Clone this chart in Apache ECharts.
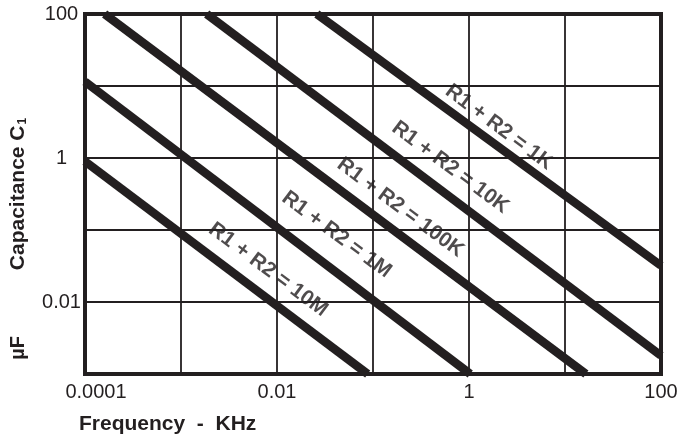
<!DOCTYPE html>
<html><head><meta charset="utf-8">
<script src="https://cdn.jsdelivr.net/npm/echarts@6/dist/echarts.min.js"></script>
<style>html,body{margin:0;padding:0;background:#fff}#chart{width:681px;height:437px}</style>
</head><body><div id="chart"></div>
<script>
// ---- data (frequency in kHz, capacitance in uF) ----
const xTickValues = [0.0001, 0.01, 1, 100];
const xTickLabels = ['0.0001', '0.01', '1', '100'];
const yTickValues = [100, 1, 0.01];
const yTickLabels = ['100', '1', '0.01'];
const lineNames = ['R1 + R2 = 10M', 'R1 + R2 = 1M', 'R1 + R2 = 100K', 'R1 + R2 = 10K', 'R1 + R2 = 1K'];
const line10M = [[0.0001, 0.9], [0.088, 0.001]];
const line1M = [[0.0001, 11.5], [1.03, 0.001]];
const line100K = [[0.00016, 100], [16.5, 0.001]];
const line10K = [[0.00185, 100], [100, 0.0018]];
const line1K = [[0.026, 100], [100, 0.032]];
const labelAnchors = [[0.00807, 0.0281], [0.0417, 0.0863], [0.193, 0.205], [0.638, 0.74], [2.06, 2.67]];

const INK = '#231f20';
const FONT = '"Liberation Sans", Arial, Helvetica, sans-serif';
const lines = [line10M, line1M, line100K, line10K, line1K];

function tickText(v, vals, labs) {
  for (let i = 0; i < vals.length; i++) {
    if (Math.abs(Math.log10(v) - Math.log10(vals[i])) < 1e-6) return labs[i];
  }
  return '';
}

const chart = echarts.init(document.getElementById('chart'), null, {renderer: 'canvas'});
chart.setOption({
  animation: false,
  backgroundColor: '#fff',
  grid: {left: 84.5, right: 20, top: 14, bottom: 63, show: true, borderColor: INK, borderWidth: 4, backgroundColor: 'transparent'},
  xAxis: {
    type: 'log', logBase: 10, min: 0.0001, max: 100, interval: 1,
    axisLine: {show: false}, axisTick: {show: false},
    splitLine: {show: true, lineStyle: {color: INK, width: 1.8}},
    axisLabel: {
      margin: 8, color: INK, fontSize: 20, fontFamily: FONT,
      formatter: function (v) {
        const t = tickText(v, xTickValues, xTickLabels);
        if (t && Math.abs(Math.log10(v) - Math.log10(xTickValues[0])) < 1e-6) return '{first|' + t + '}';
        return t;
      },
      rich: {first: {padding: [0, 0, 0, 22], fontSize: 20, fontFamily: FONT, color: INK}}
    }
  },
  yAxis: {
    type: 'log', logBase: 10, min: 0.001, max: 100, interval: 1,
    axisLine: {show: false}, axisTick: {show: false},
    splitLine: {show: true, lineStyle: {color: INK, width: 1.8}},
    axisLabel: {
      margin: 23.5, align: 'center', color: INK, fontSize: 20, fontFamily: FONT,
      formatter: function (v) { return tickText(v, yTickValues, yTickLabels); }
    },
    name: 'Capacitance C{sub|1}', nameLocation: 'middle', nameGap: 56,
    nameTextStyle: {
      color: INK, fontSize: 21, fontWeight: 'bold', fontFamily: FONT,
      rich: {sub: {fontSize: 12, fontWeight: 'bold', fontFamily: FONT, color: INK, verticalAlign: 'bottom', padding: [8, 0, 0, 1]}}
    }
  },
  graphic: [
    {type: 'text', left: 79, top: 414, style: {text: 'Frequency  -  KHz', font: 'bold 21px ' + FONT, fill: INK}},
    {type: 'text', x: 18, y: 348, rotation: Math.PI / 2, style: {text: 'µF', font: 'bold 20px ' + FONT, fill: INK, align: 'center', verticalAlign: 'middle'}}
  ],
  series: lines.map(function (d, i) {
    return {type: 'line', name: lineNames[i], data: d, symbol: 'none', clip: true, silent: true, z: 3,
      lineStyle: {width: 8.5, color: INK, cap: 'butt'}};
  }).concat([{
    type: 'scatter', silent: true, z: 4, symbolSize: 1, itemStyle: {color: 'transparent'},
    data: labelAnchors.map(function (p, i) { return {value: p, name: lineNames[i]}; }),
    label: {show: true, position: 'inside', rotate: -36.7, formatter: function (p) { return p.name; },
      color: INK, fontSize: 21, fontWeight: 'bold', fontFamily: FONT}
  }])
});
</script></body></html>
